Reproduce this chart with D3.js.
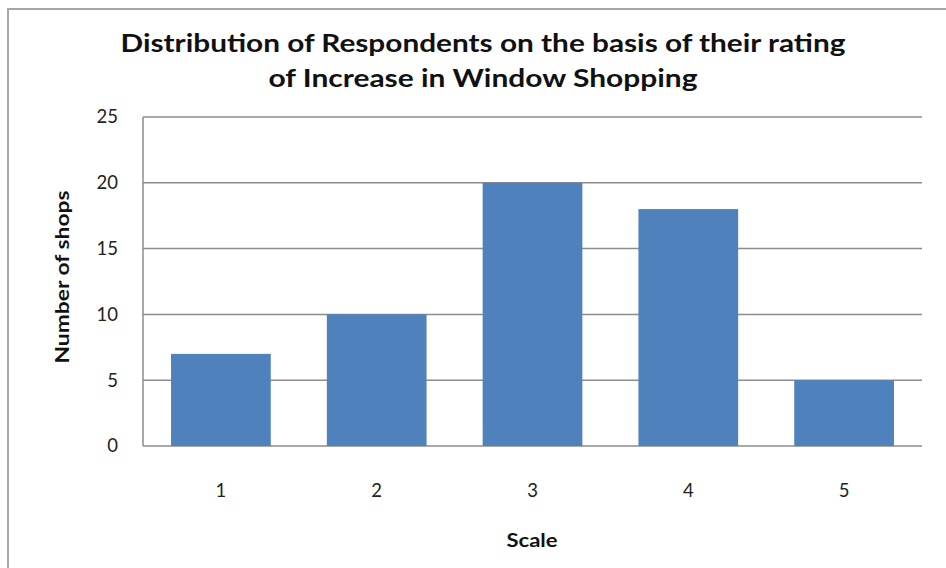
<!DOCTYPE html>
<html><head><meta charset="utf-8">
<script src="https://cdn.jsdelivr.net/npm/d3@7"></script>
<style>body{margin:0;background:#fff}svg{display:block}</style>
</head><body>
<svg id="c" width="946" height="568"></svg>
<script>
const categories = ["1","2","3","4","5"];
const values = [7,10,20,18,5];
const yTicks = [0,5,10,15,20,25];
const titleLines = ["Distribution of Respondents on the basis of their rating","of Increase in Window Shopping"];
const xTitle = "Scale";
const yTitle = "Number of shops";

const svg = d3.select("#c");
const font = "Lato, 'Open Sans', sans-serif";
const m = {left:143, right:922, top:117, bottom:446};

svg.append("rect").attr("x",8).attr("y",9).attr("width",960).attr("height",600)
  .attr("fill","#fff").attr("stroke","#a6a6a6").attr("stroke-width",2);

const x = d3.scaleBand().domain(categories).range([m.left,m.right]).paddingInner(0.36).paddingOuter(0.18);
const y = d3.scaleLinear().domain([0,25]).range([m.bottom,m.top]);

const g = svg.append("g");
g.selectAll("line.grid").data(yTicks).join("line").attr("class","grid")
  .attr("x1",m.left).attr("x2",m.right).attr("y1",d=>y(d)).attr("y2",d=>y(d))
  .attr("stroke","#8c8c8c").attr("stroke-width",1.5);
g.append("line").attr("x1",m.left).attr("x2",m.left).attr("y1",m.top).attr("y2",m.bottom)
  .attr("stroke","#8c8c8c").attr("stroke-width",1.5);

g.selectAll("rect.bar").data(values).join("rect").attr("class","bar")
  .attr("x",(d,i)=>x(categories[i])).attr("width",x.bandwidth())
  .attr("y",d=>y(d)).attr("height",d=>y(0)-y(d)).attr("fill","#4f81bd");

const yAxis = d3.axisLeft(y).tickValues(yTicks).tickSize(0).tickPadding(25);
const ya = svg.append("g").attr("transform",`translate(${m.left},0)`).call(yAxis);
ya.select(".domain").remove();
ya.selectAll("text").attr("font-family",font).attr("font-size",18.5).attr("fill","#222");

const xAxis = d3.axisBottom(x).tickSize(0).tickPadding(38);
const xa = svg.append("g").attr("transform",`translate(0,${m.bottom})`).call(xAxis);
xa.select(".domain").remove();
xa.selectAll("text").attr("font-family",font).attr("font-size",18.5).attr("fill","#222");

const tLen = [725, 429];
svg.selectAll("text.title").data(titleLines).join("text").attr("class","title")
  .attr("x",483).attr("y",(d,i)=>52+i*35).attr("text-anchor","middle")
  .attr("font-family",font).attr("font-weight","bold").attr("font-size",25).attr("fill","#111")
  .attr("textLength",(d,i)=>tLen[i]).attr("lengthAdjust","spacingAndGlyphs")
  .text(d=>d);

svg.append("text").attr("x",532).attr("y",547).attr("text-anchor","middle")
  .attr("font-family",font).attr("font-weight","bold").attr("font-size",19).attr("fill","#111")
  .attr("textLength",51).attr("lengthAdjust","spacingAndGlyphs").text(xTitle);

svg.append("text").attr("transform","translate(69,277) rotate(-90)").attr("text-anchor","middle")
  .attr("font-family",font).attr("font-weight","bold").attr("font-size",19).attr("fill","#111")
  .attr("textLength",173).attr("lengthAdjust","spacingAndGlyphs").text(yTitle);
</script>
</body></html>
